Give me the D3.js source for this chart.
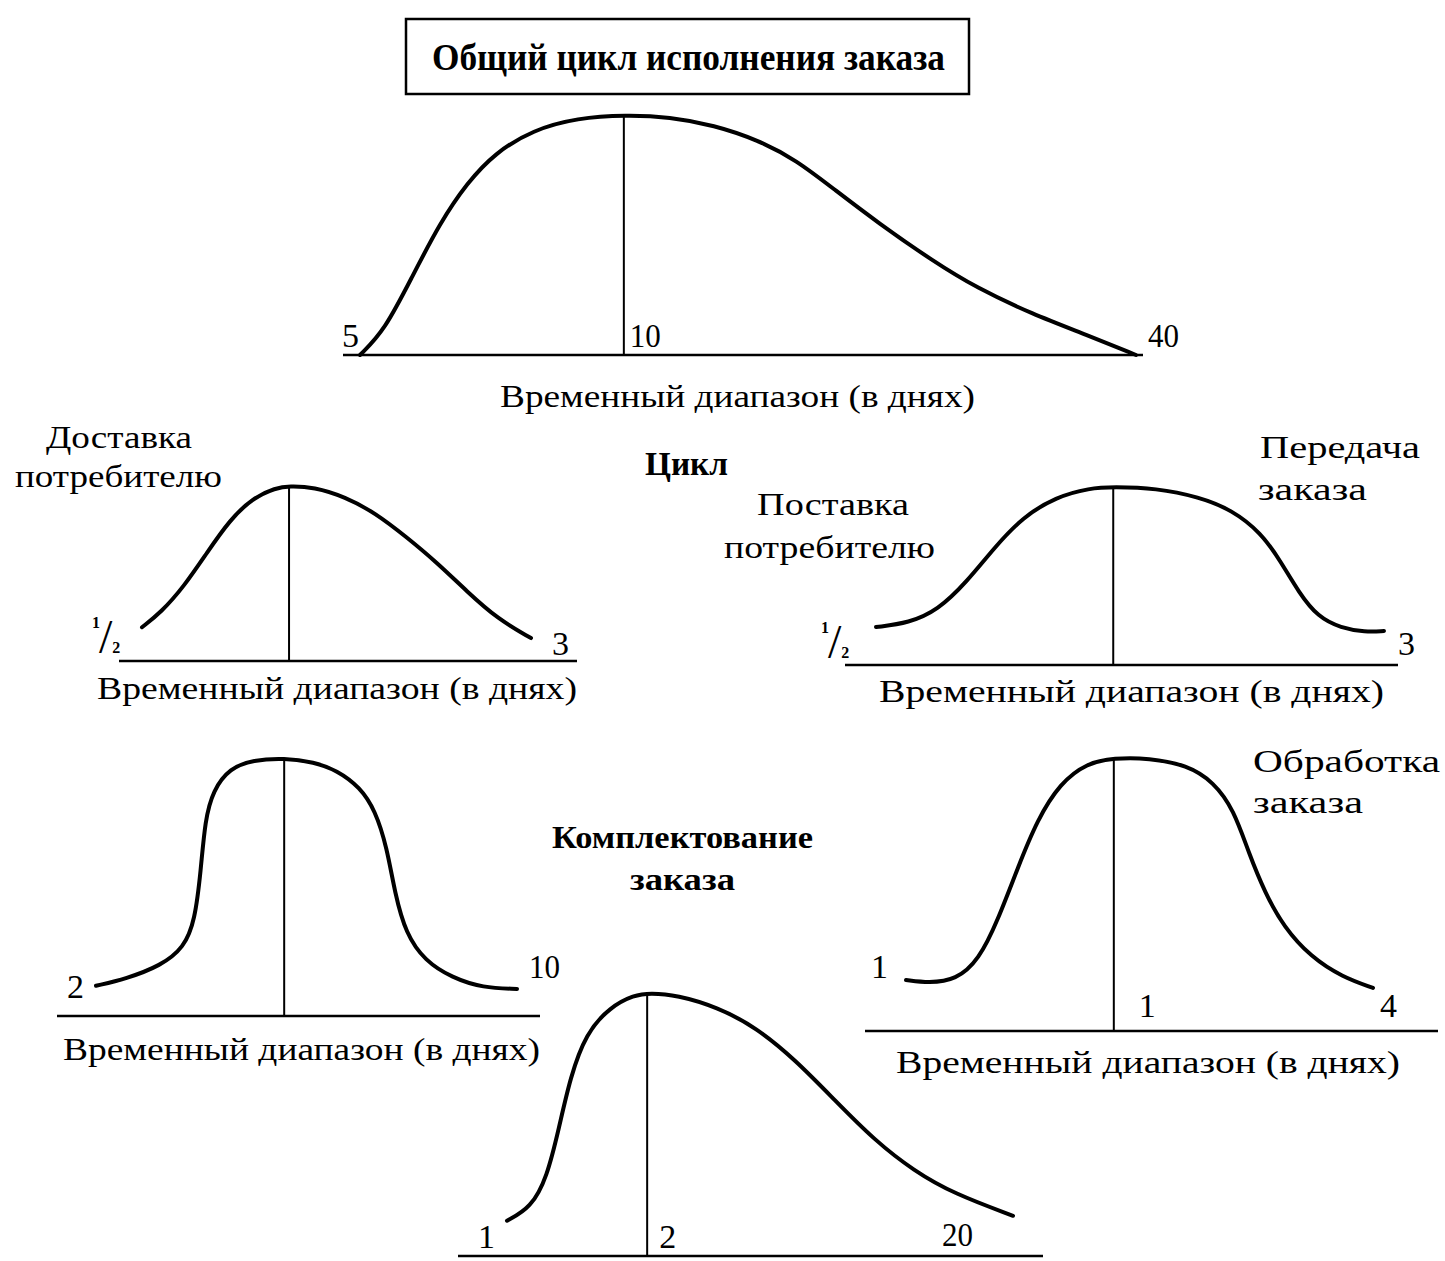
<!DOCTYPE html>
<html><head><meta charset="utf-8">
<script src="https://cdn.jsdelivr.net/npm/d3@7"></script>
<style>body{margin:0;background:#fff}svg{display:block}</style>
</head><body>
<svg id="c" width="1445" height="1261"></svg>
<script>
// ================= DATA =================
const titleText = "Общий цикл исполнения заказа";
const axisTitle = "Временный диапазон (в днях)";
const centerLabel = "Цикл";

// Curve shapes: [relative time position 0..100, relative frequency 0..100 (peak = 100)]
const curveTotal = [[0,0],[3.2,10.4],[6.7,32.5],[10.3,55],[13.8,71.7],[17.4,84.2],[22.3,93.8],[28,98.8],[34.3,100],[39.9,99.2],[45.6,95.8],[51.3,89.6],[56.2,81.3],[61.2,68.8],[66.8,55],[73.8,39.2],[79.5,27.9],[86.6,17.1],[93.7,8.3],[100,0]];
const curveDelivery = [[0,19.3],[4.9,27.8],[10.8,42.6],[16.7,61.9],[22.6,80.7],[28.5,93.2],[34.4,98.9],[37.8,100],[44.2,99.4],[52.2,93.8],[59.9,84.7],[67.9,71],[75.8,56.3],[83.5,39.8],[91.5,23.9],[100,13.1]];
const curveTransmission = [[0,21.3],[6.5,23.6],[12.2,30.9],[17.7,46.1],[23.4,66.3],[28.9,83.1],[35.4,94.4],[42.1,99.4],[46.7,100],[55.1,99.4],[63.6,94.4],[70.1,87.1],[75.8,74.2],[79.5,59],[83.3,40.4],[87,27],[91.5,20.8],[96.3,18.5],[100,19.1]];
const curveLeftBottom = [[0,11.7],[7.1,14.4],[15.4,19.5],[20.9,26.5],[23.5,37],[24.9,56.4],[25.9,75.9],[27.8,87.5],[31.8,96.1],[37.3,99.2],[44.7,100],[51.8,98.4],[57.2,95.3],[62.7,88.7],[66.3,79.8],[69.1,65.4],[71,47.5],[73.6,31.9],[78.1,21.4],[84.6,14.8],[91.9,10.9],[100,10.5]];
const curveProcessing = [[0,18.7],[4.9,17.6],[10.7,18.7],[15.6,26],[19.7,40.7],[24,60.1],[28.1,77.3],[33,90.8],[38.8,98.2],[44.5,100],[52,100],[60.2,97.4],[65.9,91.2],[70.2,81],[73.4,65.2],[76.9,50.5],[80.9,38.1],[86.7,27.1],[93.4,19.8],[100,15.8]];
const curvePicking = [[0,13.4],[4.7,18.3],[7.9,29.8],[10.3,48.9],[12.5,67.9],[15.6,84.7],[20.4,94.7],[25.1,99.2],[28.3,100],[33.6,99.2],[41.5,94.7],[49.2,87],[57.1,74.4],[64.8,59.2],[72.7,43.9],[80.4,32.4],[88.3,23.7],[100,15.3]];

// Mode (most frequent) positions on the same relative time axis
const modeTotal = 34.0, modeDelivery = 37.8, modeTransmission = 46.7, modeLeftBottom = 44.7, modeProcessing = 44.5, modePicking = 27.7;

// Tick labels (days)
const ticksTotal = ["5", "10", "40"];
const ticksDelivery = ["1/2", "3"];
const ticksTransmission = ["1/2", "3"];
const ticksLeftBottom = ["2", "10"];
const ticksProcessing = ["1", "1", "4"];
const ticksPicking = ["1", "2", "20"];

// Stage names
const nameDelivery = ["Доставка", "потребителю"];
const nameDelivery2 = ["Поставка", "потребителю"];
const nameTransmission = ["Передача", "заказа"];
const nameProcessing = ["Обработка", "заказа"];
const namePicking = ["Комплектование", "заказа"];

// ================= LAYOUT =================
const panels = [
  { curve: curveTotal, mode: modeTotal, ticks: ticksTotal, tickAt: [0, modeTotal, 100],
    x0: 360, x1: 1136, yBase: 355, yPeak: 115, ax0: 343, ax1: 1143,
    tickOff: [[-18, -8], [6, -8], [12, -8]],
    axisLabel: { x: 500, y: 407, w: 475 } },
  { curve: curveDelivery, mode: modeDelivery, ticks: ticksDelivery, tickAt: [0, 100],
    x0: 142, x1: 531, yBase: 661, yPeak: 486, ax0: 119, ax1: 577,
    tickOff: [[-50, -8], [21, -6]],
    axisLabel: { x: 97, y: 699, w: 480 } },
  { curve: curveTransmission, mode: modeTransmission, ticks: ticksTransmission, tickAt: [0, 100],
    x0: 876, x1: 1384, yBase: 665, yPeak: 487, ax0: 845, ax1: 1398,
    tickOff: [[-55, -7], [14, -10]],
    axisLabel: { x: 879, y: 702, w: 505 } },
  { curve: curveLeftBottom, mode: modeLeftBottom, ticks: ticksLeftBottom, tickAt: [0, 100],
    x0: 96, x1: 517, yBase: 1016, yPeak: 758, ax0: 57, ax1: 540,
    tickOff: [[-29, -18], [12, -38]],
    axisLabel: { x: 63, y: 1060, w: 477 } },
  { curve: curveProcessing, mode: modeProcessing, ticks: ticksProcessing, tickAt: [0, modeProcessing, 100],
    x0: 906, x1: 1373, yBase: 1031, yPeak: 758, ax0: 865, ax1: 1438,
    tickOff: [[-35, -53], [25, -14], [7, -14]],
    axisLabel: { x: 896, y: 1073, w: 504 } },
  { curve: curvePicking, mode: modePicking, ticks: ticksPicking, tickAt: [0, modePicking, 100],
    x0: 507, x1: 1013, yBase: 1256, yPeak: 993, ax0: 458, ax1: 1043,
    tickOff: [[-29, -8], [12, -8], [-71, -10]],
    axisLabel: null }
];

const names = [
  { lines: nameDelivery, pos: [[46, 448, 146], [15, 487, 207]], bold: false },
  { lines: nameDelivery2, pos: [[757, 515, 152], [724, 558, 211]], bold: false },
  { lines: nameTransmission, pos: [[1260, 458, 160], [1258, 500, 109]], bold: false },
  { lines: nameProcessing, pos: [[1253, 772, 187], [1253, 813, 110]], bold: false },
  { lines: namePicking, pos: [[552, 848, 261], [630, 890, 105]], bold: true }
];

const FONT = "'Liberation Serif', 'DejaVu Serif', serif";
const svg = d3.select("#c");

// Title box
svg.append("rect").attr("x", 406).attr("y", 19).attr("width", 563).attr("height", 75)
  .attr("fill", "none").attr("stroke", "#000").attr("stroke-width", 2.5);
svg.append("text").attr("x", 432).attr("y", 70).text(titleText)
  .attr("font-family", FONT).attr("font-weight", "bold").attr("font-size", 37)
  .attr("textLength", 513).attr("lengthAdjust", "spacingAndGlyphs");

// Center "Цикл"
svg.append("text").attr("x", 645).attr("y", 475).text(centerLabel)
  .attr("font-family", FONT).attr("font-weight", "bold").attr("font-size", 33)
  .attr("textLength", 83).attr("lengthAdjust", "spacingAndGlyphs");

function drawFraction(g, x, y) {
  // "1/2" typeset as one built-up fraction text
  const [num, den] = "1/2".split("/");
  const t = g.append("text").attr("x", x).attr("y", y).attr("font-family", FONT);
  t.append("tspan").attr("dy", -25).attr("font-size", 16).attr("font-weight", "bold").text(num);
  t.append("tspan").attr("dy", 25).attr("dx", -1).attr("font-size", 48).text("/");
  t.append("tspan").attr("dx", 0).attr("font-size", 16).attr("font-weight", "bold").text(den);
}

panels.forEach(p => {
  const x = d3.scaleLinear().domain([0, 100]).range([p.x0, p.x1]);
  const y = d3.scaleLinear().domain([0, 100]).range([p.yBase, p.yPeak]);
  const g = svg.append("g");

  // baseline (time axis)
  g.append("line").attr("x1", p.ax0).attr("x2", p.ax1).attr("y1", p.yBase).attr("y2", p.yBase)
    .attr("stroke", "#000").attr("stroke-width", 2.6);

  // mode line
  g.append("line").attr("x1", x(p.mode)).attr("x2", x(p.mode)).attr("y1", y(100)).attr("y2", p.yBase)
    .attr("stroke", "#000").attr("stroke-width", 2);

  // curve
  const line = d3.line().x(d => x(d[0])).y(d => y(d[1])).curve(d3.curveBasis);
  g.append("path").datum(p.curve).attr("d", line)
    .attr("fill", "none").attr("stroke", "#000").attr("stroke-width", 4)
    .attr("stroke-linecap", "round").attr("stroke-linejoin", "round");

  // tick labels
  p.ticks.forEach((t, i) => {
    const tx = x(p.tickAt[i]) + p.tickOff[i][0];
    const ty = p.yBase + p.tickOff[i][1];
    if (t === "1/2") { drawFraction(g, tx, ty); return; }
    g.append("text").attr("x", tx).attr("y", ty).text(t)
      .attr("font-family", FONT).attr("font-size", 34)
      .attr("textLength", t.length > 1 ? 31 : null).attr("lengthAdjust", "spacingAndGlyphs");
  });

  // axis title
  if (p.axisLabel) {
    g.append("text").attr("x", p.axisLabel.x).attr("y", p.axisLabel.y).text(axisTitle)
      .attr("font-family", FONT).attr("font-size", 32)
      .attr("textLength", p.axisLabel.w).attr("lengthAdjust", "spacingAndGlyphs");
  }
});

names.forEach(n => {
  n.lines.forEach((t, i) => {
    const [lx, ly, w] = n.pos[i];
    svg.append("text").attr("x", lx).attr("y", ly).text(t)
      .attr("font-family", FONT).attr("font-size", n.bold ? 32 : 31)
      .attr("font-weight", n.bold ? "bold" : null)
      .attr("textLength", w).attr("lengthAdjust", "spacingAndGlyphs");
  });
});
</script>
</body></html>
